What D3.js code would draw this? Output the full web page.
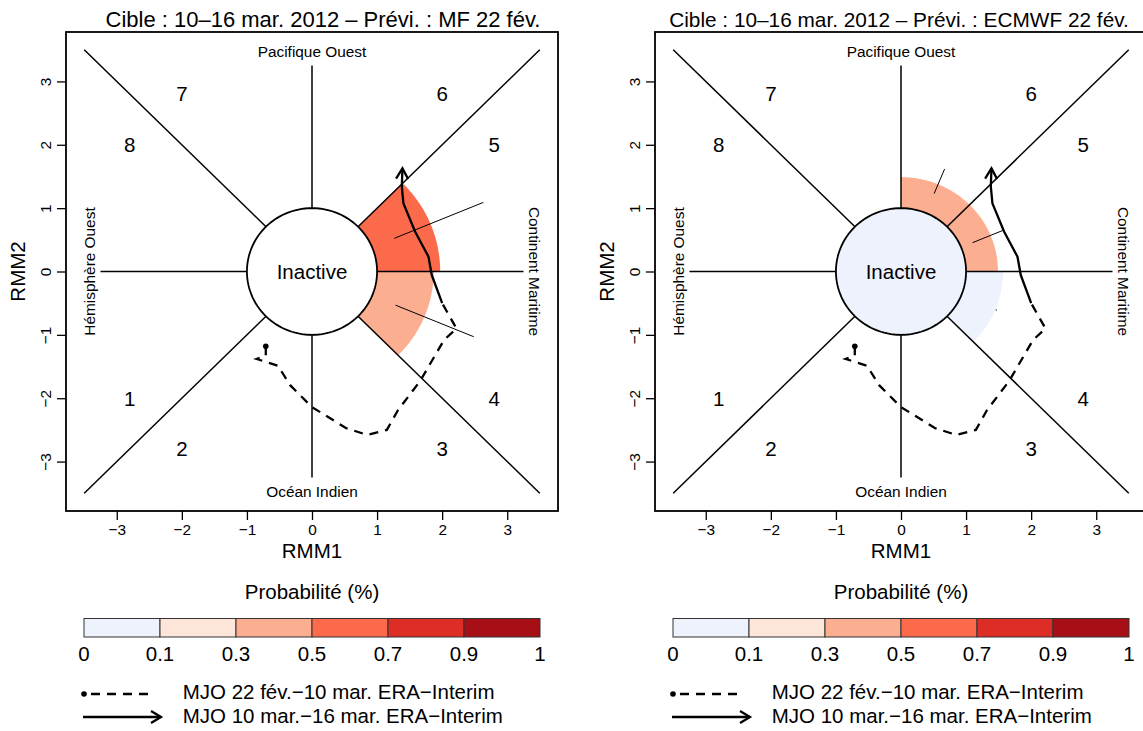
<!DOCTYPE html>
<html><head><meta charset="utf-8">
<script src="https://cdn.jsdelivr.net/npm/d3@7"></script>
<style>
body{margin:0;background:#fff}
text{font-family:"Liberation Sans",Arial,Helvetica,sans-serif;fill:#000}
</style>
</head><body><svg id="c" width="1143" height="731"></svg>
<script>
// ---------- data ----------
const tickValues = [-3, -2, -1, 0, 1, 2, 3];
const phaseNames = ["1", "2", "3", "4", "5", "6", "7", "8"];
const phaseLabelX = [-2.8, -2, 2, 2.8, 2.8, 2, -2, -2.8];
const phaseLabelY = [-2, -2.8, -2.8, -2, 2, 2.8, 2.8, 2];
const regionNames = ["Pacifique Ouest", "Océan Indien", "Hémisphère Ouest", "Continent Maritime"];
const probBreaks = ["0", "0.1", "0.3", "0.5", "0.7", "0.9", "1"];
const probColors = ["#EDF2FD", "#FEE5D9", "#FCAE91", "#FB6A4A", "#DE2D26", "#A50F15"];
const panelTitles = ["Cible : 10–16 mar. 2012 – Prévi. : MF 22 fév.",
                     "Cible : 10–16 mar. 2012 – Prévi. : ECMWF 22 fév."];
// observed MJO 22 Feb - 10 Mar (dashed)
const pastRMM1 = [-0.71, -0.71, -0.85, -0.52, -0.34, 0.0, 0.52, 0.85, 1.15, 1.32, 1.66, 2.03, 2.22, 2.0];
const pastRMM2 = [-1.18, -1.33, -1.38, -1.49, -1.79, -2.14, -2.47, -2.58, -2.5, -2.19, -1.73, -1.08, -0.9, -0.5];
// observed MJO 10 - 16 Mar (solid, arrow)
const targetRMM1 = [2.0, 1.84, 1.79, 1.585, 1.405, 1.38, 1.39];
const targetRMM2 = [-0.5, -0.055, 0.233, 0.628, 1.076, 1.338, 1.628];
// forecasts per panel
const fcPhases = [[5, 4], [6, 5, 4]];
const fcProb = [[0.6, 0.4], [0.4, 0.4, 0.05]];
const fcAmp = [[1.97, 1.87], [1.49, 1.49, 1.57]];
const fcAmpLow = [[1.37, 1.39], [1.33, 1.19, 1.575]];
const fcAmpHigh = [[2.85, 2.69], [1.75, 1.69, 1.595]];
const inactiveProb = [0, 0.05];
const legendTexts = ["MJO 22 fév.−10 mar. ERA−Interim", "MJO 10 mar.−16 mar. ERA−Interim"];

// ---------- drawing ----------
const svg = d3.select("#c");
const color = d3.scaleThreshold().domain([0.1, 0.3, 0.5, 0.7, 0.9]).range(probColors);
const offsets = [0, 589];
const titleX = [323, 899];
const titleSize = [22, 20.8];
const F = 20.5, FS = 15.4;
const deg = Math.PI / 180;

offsets.forEach((ox, p) => {
  const g = svg.append("g");
  const x = d3.scaleLinear().domain([-3.78, 3.78]).range([66 + ox, 558 + ox]);
  const y = d3.scaleLinear().domain([-3.78, 3.78]).range([511, 32]);
  const line = d3.line().x(d => x(d[0])).y(d => y(d[1]));

  function sector(r0, r1, a0, a1) {
    const pts = [], N = 60;
    for (let i = 0; i <= N; i++) { const a = (a0 + (a1 - a0) * i / N) * deg; pts.push([r1 * Math.cos(a), r1 * Math.sin(a)]); }
    for (let i = N; i >= 0; i--) { const a = (a0 + (a1 - a0) * i / N) * deg; pts.push([r0 * Math.cos(a), r0 * Math.sin(a)]); }
    return line(pts) + "Z";
  }

  // forecast wedges
  fcPhases[p].forEach((ph, i) => {
    const a0 = 180 + 45 * (ph - 1);
    g.append("path").attr("d", sector(1, fcAmp[p][i], a0, a0 + 45))
      .attr("fill", color(fcProb[p][i])).attr("stroke", "none");
  });

  // inactive circle
  const circ = d3.range(0, 361, 3).map(a => [Math.cos(a * deg), Math.sin(a * deg)]);
  g.append("path").attr("d", line(circ) + "Z")
    .attr("fill", inactiveProb[p] > 0 ? color(inactiveProb[p]) : "#fff")
    .attr("stroke", "#000").attr("stroke-width", 1.8);

  // phase lines
  [45, 135, 225, 315].forEach(a => {
    const c = Math.cos(a * deg), s = Math.sin(a * deg);
    g.append("path").attr("d", line([[c, s], [3.5 * Math.sign(c), 3.5 * Math.sign(s)]]))
      .attr("stroke", "#000").attr("stroke-width", 1.5).attr("fill", "none");
  });
  [0, 90, 180, 270].forEach(a => {
    const c = Math.round(Math.cos(a * deg)), s = Math.round(Math.sin(a * deg));
    g.append("path").attr("d", line([[c, s], [3.25 * c, 3.25 * s]]))
      .attr("stroke", "#000").attr("stroke-width", 1.5).attr("fill", "none");
  });

  // amplitude spread lines
  fcPhases[p].forEach((ph, i) => {
    const a = (180 + 45 * (ph - 1) + 22.5) * deg;
    const lo = fcAmpLow[p][i], hi = fcAmpHigh[p][i];
    g.append("path").attr("d", line([[lo * Math.cos(a), lo * Math.sin(a)], [hi * Math.cos(a), hi * Math.sin(a)]]))
      .attr("stroke", "#000").attr("stroke-width", 1).attr("fill", "none");
  });

  // past track (dashed)
  const past = pastRMM1.map((v, i) => [v, pastRMM2[i]]);
  g.append("path").attr("d", line(past)).attr("fill", "none").attr("stroke", "#000")
    .attr("stroke-width", 2.3).attr("stroke-dasharray", "9,7");
  g.append("circle").attr("cx", x(past[0][0])).attr("cy", y(past[0][1])).attr("r", 2.8).attr("fill", "#000");

  // target track (solid + arrow)
  const targ = targetRMM1.map((v, i) => [v, targetRMM2[i]]);
  g.append("path").attr("d", line(targ)).attr("fill", "none").attr("stroke", "#000")
    .attr("stroke-width", 2.3).attr("stroke-linejoin", "round");
  const n = targ.length;
  const tx = x(targ[n - 1][0]), ty = y(targ[n - 1][1]);
  const px = x(targ[n - 2][0]), py = y(targ[n - 2][1]);
  const ang = Math.atan2(ty - py, tx - px);
  const L = 12;
  const arm = s => [tx - L * Math.cos(ang + s * 30 * deg), ty - L * Math.sin(ang + s * 30 * deg)];
  const a1 = arm(1), a2 = arm(-1);
  g.append("path").attr("d", `M${a1[0]},${a1[1]}L${tx},${ty}L${a2[0]},${a2[1]}`)
    .attr("fill", "none").attr("stroke", "#000").attr("stroke-width", 2.3).attr("stroke-linejoin", "miter");

  // box
  g.append("rect").attr("x", 66 + ox).attr("y", 32).attr("width", 492).attr("height", 479)
    .attr("fill", "none").attr("stroke", "#000").attr("stroke-width", 1.8);

  // axes
  const ax = g.append("g").attr("transform", `translate(0,511)`)
    .call(d3.axisBottom(x).tickValues(tickValues).tickSize(9).tickPadding(4).tickFormat(d3.format("d")));
  ax.select(".domain").remove();
  ax.selectAll("line").attr("stroke-width", 1.3);
  ax.selectAll("text").style("font-size", FS + "px").style("font-family", "Liberation Sans, Arial, sans-serif");

  const ay = g.append("g").attr("transform", `translate(${66 + ox},0)`)
    .call(d3.axisLeft(y).tickValues(tickValues).tickSize(9).tickFormat(d3.format("d")));
  ay.select(".domain").remove();
  ay.selectAll("line").attr("stroke-width", 1.3);
  ay.selectAll("text").attr("x", null).attr("dy", "0.35em").attr("text-anchor", "middle")
    .attr("transform", "translate(-20,0) rotate(-90)")
    .style("font-size", FS + "px").style("font-family", "Liberation Sans, Arial, sans-serif");

  // titles
  g.append("text").attr("x", titleX[p]).attr("y", 27).attr("text-anchor", "middle")
    .style("font-size", titleSize[p] + "px").text(panelTitles[p]);
  g.append("text").attr("x", x(0)).attr("y", 558).attr("text-anchor", "middle")
    .style("font-size", F + "px").text("RMM1");
  g.append("text").attr("transform", `translate(${18 + ox},${y(0)}) rotate(-90)`).attr("dy", "0.35em")
    .attr("text-anchor", "middle").style("font-size", F + "px").text("RMM2");

  // phase numbers
  phaseNames.forEach((t, i) => {
    g.append("text").attr("x", x(phaseLabelX[i])).attr("y", y(phaseLabelY[i])).attr("dy", "0.36em")
      .attr("text-anchor", "middle").style("font-size", F + "px").text(t);
  });
  // region names
  g.append("text").attr("x", x(0)).attr("y", y(3.47)).attr("dy", "0.36em").attr("text-anchor", "middle")
    .style("font-size", FS + "px").text(regionNames[0]);
  g.append("text").attr("x", x(0)).attr("y", y(-3.47)).attr("dy", "0.36em").attr("text-anchor", "middle")
    .style("font-size", FS + "px").text(regionNames[1]);
  g.append("text").attr("transform", `translate(${x(-3.42)},${y(0)}) rotate(-90)`).attr("dy", "0.36em")
    .attr("text-anchor", "middle").style("font-size", FS + "px").text(regionNames[2]);
  g.append("text").attr("transform", `translate(${x(3.42)},${y(0)}) rotate(90)`).attr("dy", "0.36em")
    .attr("text-anchor", "middle").style("font-size", FS + "px").text(regionNames[3]);
  g.append("text").attr("x", x(0)).attr("y", y(0)).attr("dy", "0.36em").attr("text-anchor", "middle")
    .style("font-size", F + "px").text("Inactive");

  // colour legend
  const lx = d3.scaleLinear().domain([0, probColors.length]).range([84 + ox, 540 + ox]);
  g.append("text").attr("x", x(0)).attr("y", 599).attr("text-anchor", "middle")
    .style("font-size", F + "px").text("Probabilité (%)");
  probColors.forEach((c, i) => {
    g.append("rect").attr("x", lx(i)).attr("y", 618.5).attr("width", lx(i + 1) - lx(i)).attr("height", 18.5)
      .attr("fill", c).attr("stroke", "#333").attr("stroke-width", 1);
  });
  probBreaks.forEach((b, i) => {
    g.append("text").attr("x", lx(i)).attr("y", 661).attr("text-anchor", "middle")
      .style("font-size", F + "px").text(b);
  });

  // line legend
  g.append("path").attr("d", `M${83 + ox},694H${157 + ox}`).attr("stroke", "#000")
    .attr("stroke-width", 2.3).attr("stroke-dasharray", "0,8,9,7,9,7,9,7,9,7");
  g.append("circle").attr("cx", 84 + ox).attr("cy", 694).attr("r", 2.8).attr("fill", "#000");
  g.append("path").attr("d", `M${83 + ox},717H${161 + ox}`).attr("stroke", "#000").attr("stroke-width", 2.3);
  g.append("path").attr("d", `M${151 + ox},711L${161 + ox},717L${151 + ox},723`).attr("fill", "none")
    .attr("stroke", "#000").attr("stroke-width", 2.3);
  legendTexts.forEach((t, i) => {
    g.append("text").attr("x", 182.7 + ox).attr("y", 699 + i * 23.5).style("font-size", F + "px").text(t);
  });
});
</script>
</body></html>
